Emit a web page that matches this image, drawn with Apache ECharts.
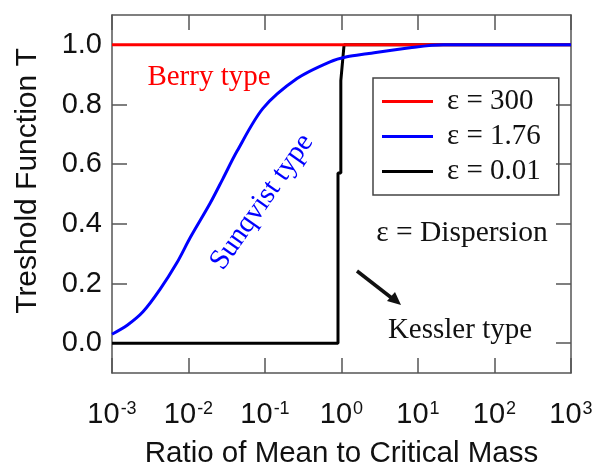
<!DOCTYPE html>
<html>
<head>
  <meta charset="utf-8">
  <script src="https://cdn.jsdelivr.net/npm/echarts@6.0.0/dist/echarts.min.js"></script>
  <style>
    html, body { margin: 0; padding: 0; background: #fff; }
    #chart { width: 596px; height: 465px; }
  </style>
</head>
<body>
  <div id="chart"></div>
  <script>
    // 读图得到的数据
    var legendNames = ['ε = 300', 'ε = 1.76', 'ε = 0.01'];
    var yTicks = [0, 0.2, 0.4, 0.6, 0.8, 1.0];
    var berryData = [[0.001, 1.0], [1000, 1.0]];
    var sunqvistData = [
      [0.001, 0.03], [0.00158, 0.06], [0.00254, 0.105], [0.00424, 0.18],
      [0.00708, 0.27], [0.0105, 0.353], [0.019, 0.467], [0.028, 0.55],
      [0.043, 0.643], [0.094, 0.787], [0.262, 0.887], [0.708, 0.943],
      [1.175, 0.96], [2.15, 0.97], [7.85, 0.99], [21.4, 1.0], [1000, 1.0]
    ];
    var kesslerData = [
      [0.001, 0], [0.9, 0], [0.9, 0.57], [0.98, 0.57], [0.98, 0.88],
      [1.08, 1.0], [1000, 1.0]
    ];

    var chart = echarts.init(document.getElementById('chart'));
    var frame = '#555';
    var sans = 'Liberation Sans, Arial, sans-serif';
    var serif = 'Liberation Serif, Times New Roman, serif';

    function yAxisBase(pos) {
      return {
        type: 'value', position: pos, min: -0.1, max: 1.1,
        axisLine: { show: true, onZero: false, lineStyle: { color: frame, width: 1.5 } },
        axisTick: { show: true, inside: true, length: 15, customValues: yTicks,
          lineStyle: { color: frame, width: 1.5 } },
        splitLine: { show: false }
      };
    }
    function xAxisBase(pos) {
      return {
        type: 'log', logBase: 10, position: pos, min: 0.001, max: 1000, interval: 1,
        axisLine: { show: true, onZero: false, lineStyle: { color: frame, width: 1.5 } },
        axisTick: { show: true, inside: true, length: 15,
          lineStyle: { color: frame, width: 1.5 } },
        splitLine: { show: false }
      };
    }

    var xBottom = xAxisBase('bottom');
    xBottom.axisLabel = {
      margin: 27, color: '#111', fontFamily: sans, fontSize: 29,
      formatter: function (v) {
        return '10{s|' + Math.round(Math.log10(v)) + '}';
      },
      rich: { s: { fontSize: 18, fontFamily: sans, color: '#111', verticalAlign: 'top', padding: [0, 0, 10, 1] } }
    };
    xBottom.name = 'Ratio of Mean to Critical Mass';
    xBottom.nameLocation = 'middle';
    xBottom.nameGap = 66;
    xBottom.nameTextStyle = { fontFamily: sans, fontSize: 29.5, color: '#111' };
    var xTop = xAxisBase('top');
    xTop.axisLabel = { show: false };

    var yLeft = yAxisBase('left');
    yLeft.axisLabel = {
      margin: 10, color: '#111', fontFamily: sans, fontSize: 29, customValues: yTicks,
      formatter: function (v) { return v.toFixed(1); }
    };
    var yRight = yAxisBase('right');
    yRight.axisLabel = { show: false };

    var option = {
      animation: false,
      grid: { left: 112, right: 25, top: 15, bottom: 92, outerBoundsMode: 'none', containLabel: false },
      xAxis: [xBottom, xTop],
      yAxis: [yLeft, yRight],
      legend: {
        orient: 'vertical', left: 373, top: 78,
        data: legendNames,
        icon: 'rect', itemWidth: 51, itemHeight: 3, itemGap: 6,
        padding: [9, 18, 9, 9],
        borderColor: '#444', borderWidth: 1.5,
        textStyle: { fontFamily: serif, fontSize: 29, color: '#111', lineHeight: 29, padding: [0, 0, 0, 9] }
      },
      series: [
        { name: legendNames[2], type: 'line', data: kesslerData, symbol: 'none',
          lineStyle: { color: '#000', width: 3 }, itemStyle: { color: '#000' }, z: 2 },
        { name: legendNames[0], type: 'line', data: berryData, symbol: 'none',
          lineStyle: { color: '#ff0000', width: 3 }, itemStyle: { color: '#ff0000' }, z: 3 },
        { name: legendNames[1], type: 'line', data: sunqvistData, symbol: 'none', smooth: 0.3,
          lineStyle: { color: '#0000ff', width: 3 }, itemStyle: { color: '#0000ff' }, z: 4 }
      ],
      graphic: [
        { type: 'text', x: 28, y: 181, rotation: Math.PI / 2,
          style: { text: 'Treshold Function T', font: '30px ' + sans, fill: '#111',
            textAlign: 'center', textVerticalAlign: 'middle' } },
        { type: 'text', x: 209, y: 77,
          style: { text: 'Berry type', font: '29px ' + serif, fill: '#ff0000',
            textAlign: 'center', textVerticalAlign: 'middle' } },
        { type: 'text', x: 262, y: 202, rotation: 55 * Math.PI / 180,
          style: { text: 'Sunqvist type', font: '29px ' + serif, fill: '#0000ff',
            textAlign: 'center', textVerticalAlign: 'middle' } },
        { type: 'text', x: 462, y: 233,
          style: { text: 'ε = Dispersion', font: '29.5px ' + serif, fill: '#111',
            textAlign: 'center', textVerticalAlign: 'middle' } },
        { type: 'text', x: 460, y: 330,
          style: { text: 'Kessler type', font: '29px ' + serif, fill: '#111',
            textAlign: 'center', textVerticalAlign: 'middle' } },
        { type: 'line', shape: { x1: 357, y1: 271, x2: 393, y2: 299 },
          style: { stroke: '#111', lineWidth: 3.5 } },
        { type: 'polygon', shape: { points: [[401, 305], [387, 301], [395, 292]] },
          style: { fill: '#111' } }
      ]
    };
    chart.setOption(option);
  </script>
</body>
</html>
